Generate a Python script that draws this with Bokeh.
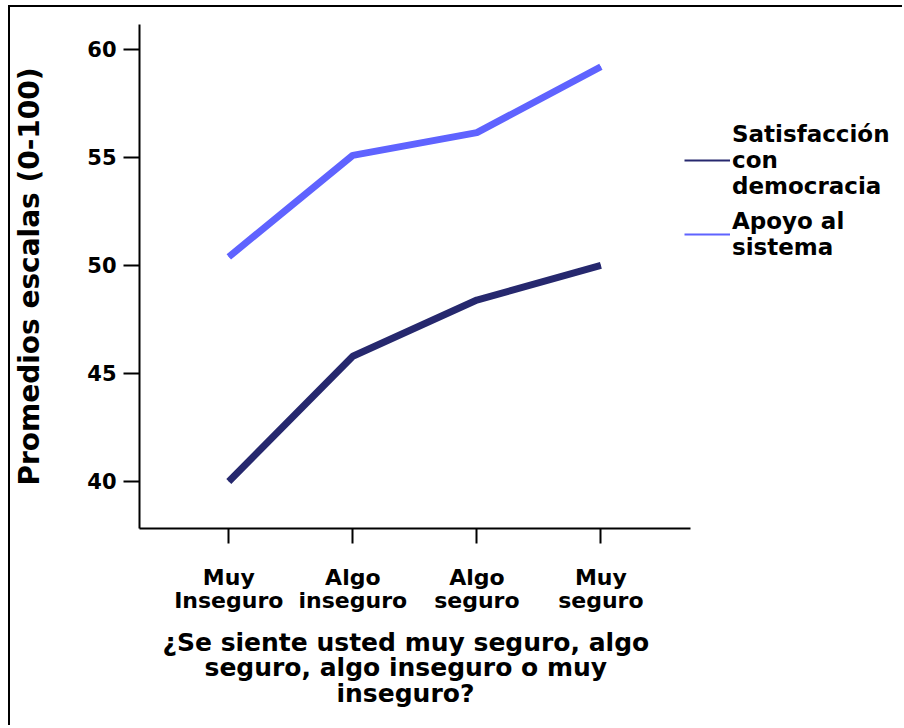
from bokeh.plotting import figure
from bokeh.models import Range1d, FixedTicker, Legend, LegendItem, Title
from bokeh.embed import file_html
from bokeh.resources import INLINE

categories = ["Muy\nInseguro", "Algo\ninseguro", "Algo\nseguro", "Muy\nseguro"]
x_pos = [1, 2, 3, 4]
satisfaccion = [40.0, 45.8, 48.4, 50.0]
apoyo = [50.4, 55.1, 56.15, 59.2]
y_ticks = [40, 45, 50, 55, 60]
series_names = ["Satisfacción\ncon\ndemocracia", "Apoyo al\nsistema"]
x_title_lines = ["¿Se siente usted muy seguro, algo", "seguro, algo inseguro o muy", "inseguro?"]
dark = "#26286e"
light = "#5f63ff"
FONT = "DejaVu Sans"

# frame spans to the right edge so the legend can sit inside it;
# the x axis itself is bounded to the category area
p = figure(width=894, height=720, output_backend="svg", toolbar_location=None,
           x_range=Range1d(0.28, 6.448), y_range=Range1d(37.824, 61.157),
           min_border_left=123, min_border_top=17, min_border_right=0,
           min_border_bottom=199, outline_line_color=None,
           styles={"margin-left": "8px", "margin-top": "5px",
                   "border-left": "2px solid #000", "border-top": "2px solid #000"})
p.grid.visible = False

# thin copies (hidden under the thick lines) used only as legend samples
l1 = p.line(x_pos, satisfaccion, line_color=dark, line_width=2)
l2 = p.line(x_pos, apoyo, line_color=light, line_width=2)
r1 = p.line(x_pos, satisfaccion, line_color=dark, line_width=7)
r2 = p.line(x_pos, apoyo, line_color=light, line_width=7)

for ax in (p.xaxis[0], p.yaxis[0]):
    ax.axis_line_width = 2
    ax.axis_line_color = "black"
    ax.major_tick_line_width = 2
    ax.major_tick_line_color = "black"
    ax.major_tick_in = 0
    ax.minor_tick_line_color = None
    ax.major_label_text_font = FONT
    ax.major_label_text_font_style = "bold"
    ax.major_label_text_color = "black"
    ax.axis_label_text_font = FONT
    ax.axis_label_text_font_style = "bold"
    ax.axis_label_text_color = "black"

xa = p.xaxis[0]
xa.bounds = (0.28, 4.72)
xa.ticker = FixedTicker(ticks=x_pos)
xa.major_label_overrides = {x: c for x, c in zip(x_pos, categories)}
xa.major_tick_out = 15
xa.major_label_text_font_size = "22px"
xa.major_label_text_line_height = 0.94
xa.major_label_standoff = 21

ya = p.yaxis[0]
ya.ticker = FixedTicker(ticks=y_ticks)
ya.major_tick_out = 16
ya.major_label_text_font_size = "21px"
ya.major_label_standoff = 7
ya.axis_label = "Promedios escalas (0-100)"
ya.axis_label_text_font_size = "28px"
ya.axis_label_standoff = 38

# x-axis question, one centred line per title (centre near x = 406 px on the page)
x_offsets = [23, 65, 197]
x_standoffs = [18, -29, 18]
for line, off, so in zip(x_title_lines, x_offsets, x_standoffs):
    p.add_layout(Title(text=line, align="left", offset=off, standoff=so,
                       text_font=FONT, text_font_style="bold",
                       text_font_size="25px", text_color="black"), "below")

legend = Legend(items=[LegendItem(label=series_names[0], renderers=[l1]),
                       LegendItem(label=series_names[1], renderers=[l2])],
                location=(545, 268), padding=0, margin=0, spacing=9,
                glyph_width=46, label_standoff=2,
                border_line_color=None, background_fill_alpha=0,
                label_text_font=FONT, label_text_font_style="bold",
                label_text_font_size="23px",
                label_text_color="black")
p.add_layout(legend)

open("out.html", "w").write(file_html(p, INLINE))
